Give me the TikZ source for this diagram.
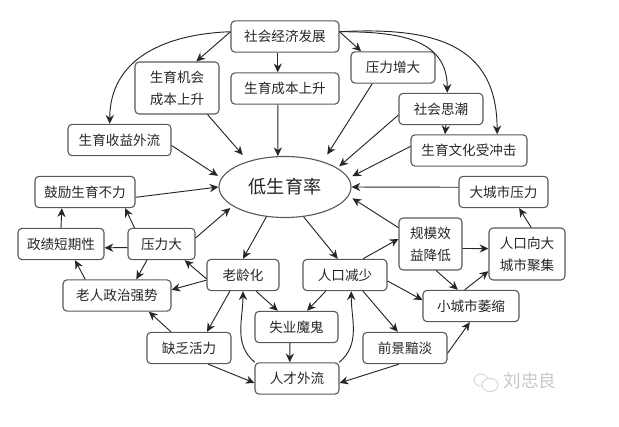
\documentclass[tikz,border=0pt]{standalone}
\usepackage{fontspec}
\setmainfont{Noto Sans CJK SC}
\usetikzlibrary{arrows.meta,shapes.geometric}
\begin{document}
\begin{tikzpicture}[
  x=0.03cm, y=-0.03cm,
  box/.style={rectangle, rounded corners=3.5pt, draw=black!65, line width=0.95pt,
              align=center, font=\fontsize{11.6}{18.7}\selectfont, text=black!85,
              inner sep=0pt, minimum height=0.94cm},
  tall/.style={minimum height=1.56cm},
  w/.style={minimum width=#1*0.03cm},
  hub/.style={ellipse, draw=black!65, line width=0.95pt, text=black!85,
              font=\fontsize{15.5}{18}\selectfont, inner sep=0pt,
              minimum width=3.96cm, minimum height=1.83cm},
  arr/.style={-{Stealth[length=7.5pt,width=7pt]}, line width=0.8pt, black!85},
  gap/.style={shorten >=#1},
  wmark/.style={text=black!22, font=\fontsize{15}{16}\selectfont, inner sep=0pt},
  wicon/.style={ellipse, draw=black!16, fill=white, line width=0.8pt, inner sep=0pt},
]
\useasboundingbox (0,0) rectangle (619,427);

% Centre
\node[hub] (E) at (285,187) {低生育率};

% Upper nodes
\node[box, w=108] (S) at (285,36.5)  {社会经济发展};
\node[box, w=84, tall] (J) at (177,88) {生育机会\\成本上升};
\node[box, w=108] (C) at (285,88.5)  {生育成本上升};
\node[box, w=84]  (Y) at (393,67.5)  {压力增大};
\node[box, w=84]  (T) at (441,109)   {社会思潮};
\node[box, w=116] (U) at (469,150.5) {生育文化受冲击};
\node[box, w=103] (B) at (119.5,140) {生育收益外流};
\node[box, w=89]  (D) at (503.5,192) {大城市压力};
\node[box, w=100] (G) at (85,192)    {鼓励生育不力};

% Lower left nodes
\node[box, w=86]  (Z) at (61,244)    {政绩短期性};
\node[box, w=67]  (P) at (161.5,244) {压力大};
\node[box, w=72]  (A) at (243,275)   {老龄化};
\node[box, w=108] (L) at (117,295.5) {老人政治强势};
\node[box, w=84]  (Q) at (189,348)   {缺乏活力};
\node[box, w=83]  (K) at (296.5,327) {失业魔鬼};
\node[box, w=84]  (R) at (297,378.5) {人才外流};

% Lower right nodes
\node[box, w=84]  (N) at (345,275)   {人口减少};
\node[box, w=63, tall] (M) at (430.5,244) {规模效\\益降低};
\node[box, w=76, tall] (H) at (527,254)   {人口向大\\城市聚集};
\node[box, w=96]  (W) at (471,306)   {小城市萎缩};
\node[box, w=84]  (F) at (405,348)   {前景黯淡};

% Watermark
\node[wicon, minimum width=0.42cm, minimum height=0.36cm] (I1) at (481,380) {};
\node[wicon, minimum width=0.48cm, minimum height=0.4cm] (I2) at (490,385) {};
\node[wmark] (V) at (530,381) {刘忠良};

% Top node outwards
\draw[arr] (S.175) to[out=182,in=90,looseness=1.1] (B.121);
\draw[arr] (S.175) -- (J.54);
\draw[arr] (S.246) -- (C.114);
\draw[arr] (S.5) -- (Y.153);
\draw[arr] (S.5) to[out=0,in=90,looseness=1.15] (T.69);
\draw[arr] (S.5) to[out=3,in=90,looseness=1.25] (U.30);
\draw[arr] (T.287) -- (U.146);

% Into the centre
\draw[arr] (C.246) -- (E.103);
\draw[arr, gap=7pt] (J.319) -- (E.145);
\draw[arr, gap=3.4pt] (B.354) -- (E.172);
\draw[arr] (G.354) -- (E.west);
\draw[arr, gap=7pt] (Y.218) -- (E.34);
\draw[arr, gap=2pt] (T.188) -- (E.20);
\draw[arr, gap=3.4pt] (U.176) -- (E.8);
\draw[arr] (D.174) -- (E.east);
\draw[arr, gap=2.5pt] (P.10) -- (E.200);
\draw[arr, gap=3.8pt] (M.153) -- (E.352);

% Left side
\draw[arr] (Z.north) -- (G.215);
\draw[arr] (P.149) -- (G.338);
\draw[arr] (P.186) -- (Z.355);
\draw[arr] (P.228) -- (L.40);
\draw[arr] (L.153) -- (Z.311);
\draw[arr] (A.186) -- (P.325);
\draw[arr] (A.188) -- (L.6);
\draw[arr] (E.238) -- (A.north);
\draw[arr] (A.231) -- (Q.42);
\draw[arr] (Q.138) -- (L.333);
\draw[arr] (Q.320) -- (R.186);

% Middle
\draw[arr] (A.309) -- (K.139);
\draw[arr] (N.220) -- (K.57);
\draw[arr] (K.248) -- (R.114);
\draw[arr] (R.159) to[out=140,in=270] (A.south);
\draw[arr] (R.21) to[out=40,in=270] (N.291);

% Right side
\draw[arr] (E.302) -- (N.114);
\draw[arr] (N.318) -- (F.114);
\draw[arr] (F.249) -- (R.354);
\draw[arr] (F.353) -- (W.266);
\draw[arr] (N.352) -- (W.173);
\draw[arr] (N.42) -- (M.171);
\draw[arr] (M.352) -- (H.172);
\draw[arr] (M.282) -- (W.129);
\draw[arr] (W.111) -- (H.204);
\draw[arr] (H.81) -- (D.314);

\end{tikzpicture}
\end{document}
